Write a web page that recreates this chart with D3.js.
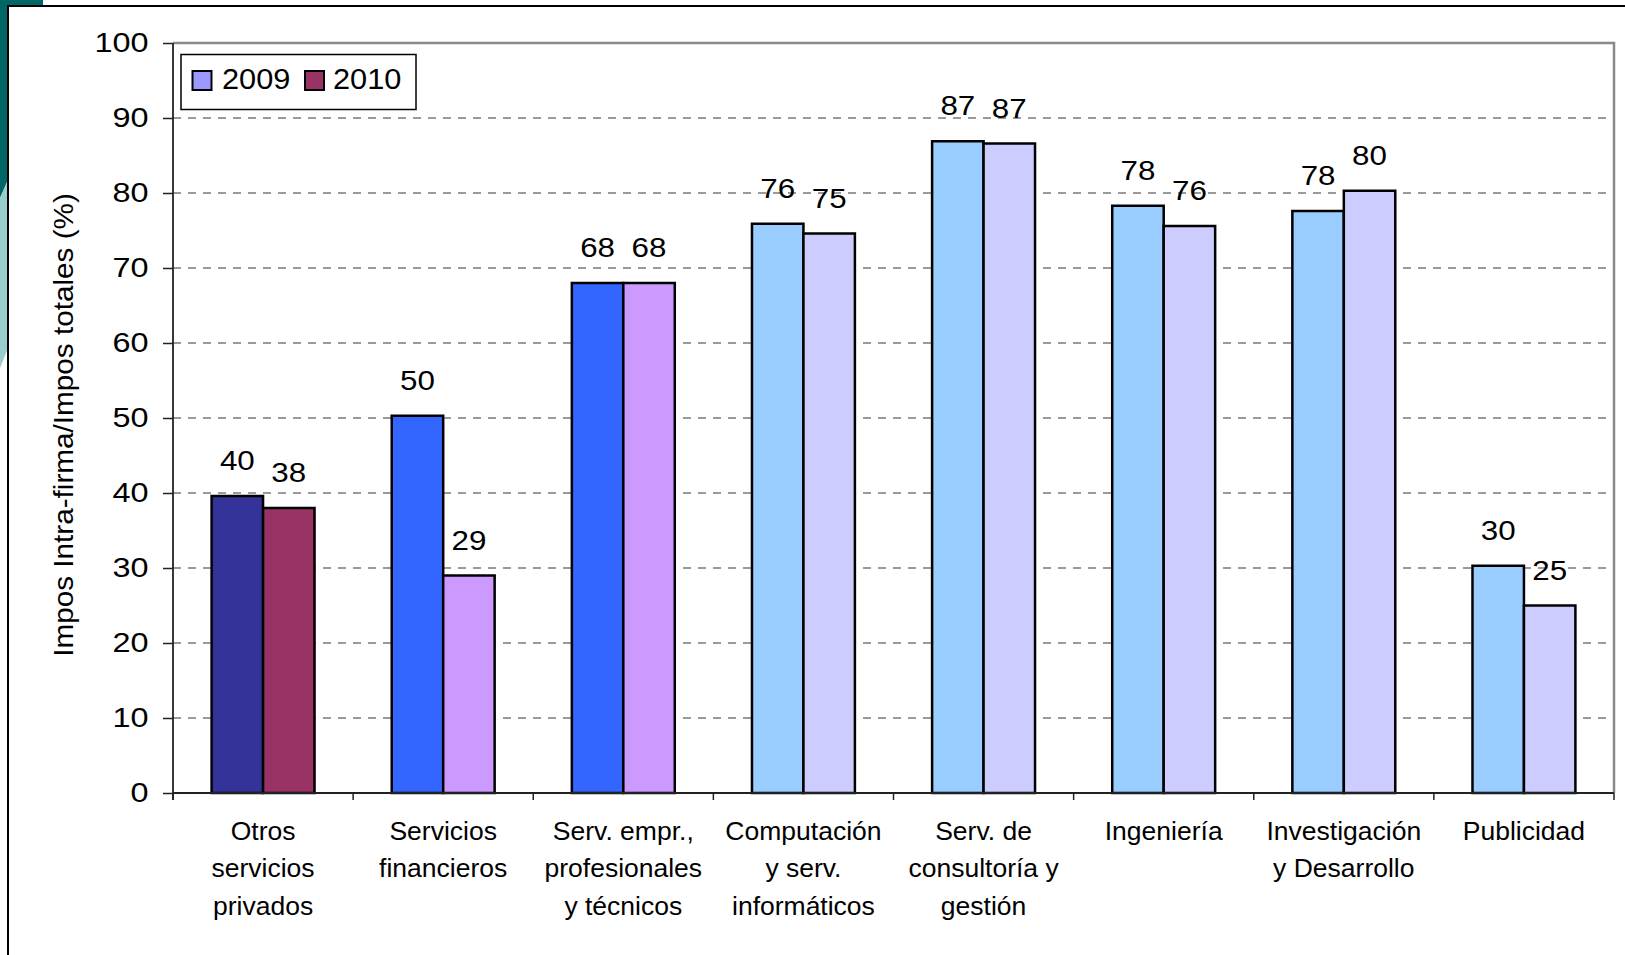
<!DOCTYPE html>
<html>
<head>
<meta charset="utf-8">
<script src="https://cdn.jsdelivr.net/npm/d3@7"></script>
<style>
  html, body { margin: 0; padding: 0; background: #fff; }
  svg { display: block; font-family: "Liberation Sans", Arial, Helvetica, sans-serif; }
</style>
</head>
<body>
<svg id="chart" width="1625" height="955"></svg>
<script>
// ---- data ----
const categories = [
  ["Otros", "servicios", "privados"],
  ["Servicios", "financieros"],
  ["Serv. empr.,", "profesionales", "y técnicos"],
  ["Computación", "y serv.", "informáticos"],
  ["Serv. de", "consultoría y", "gestión"],
  ["Ingeniería"],
  ["Investigación", "y Desarrollo"],
  ["Publicidad"]
];
const series = ["2009", "2010"];
const values2009 = [39.6, 50.3, 68.0, 75.9, 86.9, 78.3, 77.6, 30.3];
const values2010 = [38.0, 29.0, 68.0, 74.6, 86.6, 75.6, 80.3, 25.0];
const labels2009 = ["40", "50", "68", "76", "87", "78", "78", "30"];
const labels2010 = ["38", "29", "68", "75", "87", "76", "80", "25"];
const colors2009 = ["#333399", "#3366FF", "#3366FF", "#99CCFF", "#99CCFF", "#99CCFF", "#99CCFF", "#99CCFF"];
const colors2010 = ["#993366", "#CC99FF", "#CC99FF", "#CCCCFF", "#CCCCFF", "#CCCCFF", "#CCCCFF", "#CCCCFF"];
const legendColors = ["#9999FF", "#993366"];
const yTicks = [0, 10, 20, 30, 40, 50, 60, 70, 80, 90, 100];
const yTitle = "Impos Intra-firma/Impos totales (%)";

// ---- layout ----
const svg = d3.select("#chart");
const X0 = 173, X1 = 1614, Y0 = 793, Y1 = 43;

// decoration (slide corner)
svg.append("path").attr("d", "M0,0 H43 V6 H8 V180 L0,198 Z").attr("fill", "#006666");
svg.append("path").attr("d", "M0,198 L8,180 V348 Q4,358 0,368 Z").attr("fill", "#99CCCC");
// frame
svg.append("path").attr("d", "M8,956 V6 H1626").attr("fill", "none").attr("stroke", "#000").attr("stroke-width", 2);

const catIdx = d3.range(categories.length);
const x = d3.scaleBand().domain(catIdx).range([X0, X1]).paddingInner(0).paddingOuter(0);
const xs = d3.scaleBand().domain(series).range([0, x.bandwidth()]).paddingInner(0).paddingOuter(0.75);
const y = d3.scaleLinear().domain([0, 100]).range([Y0, Y1]);

// gridlines
svg.append("g").selectAll("line").data(yTicks.filter(v => v > 0 && v < 100)).join("line")
  .attr("x1", X0).attr("x2", X1).attr("y1", d => y(d)).attr("y2", d => y(d))
  .attr("stroke", "#7a7a7a").attr("stroke-width", 1.5).attr("stroke-dasharray", "8,7");

// plot area border top/right
svg.append("path").attr("d", `M${X0},${y(100)} H${X1} V${y(0)}`)
  .attr("fill", "none").attr("stroke", "#8a8a8a").attr("stroke-width", 2.5);

// bars
const rows = [];
catIdx.forEach(i => {
  rows.push({i, s: "2009", v: values2009[i], lab: labels2009[i], c: colors2009[i]});
  rows.push({i, s: "2010", v: values2010[i], lab: labels2010[i], c: colors2010[i]});
});
svg.append("g").selectAll("rect").data(rows).join("rect")
  .attr("x", d => x(d.i) + xs(d.s))
  .attr("y", d => y(d.v))
  .attr("width", xs.bandwidth())
  .attr("height", d => y(0) - y(d.v))
  .attr("fill", d => d.c)
  .attr("stroke", "#000").attr("stroke-width", 2.5);

// data labels
svg.append("g").selectAll("text").data(rows).join("text")
  .attr("transform", d => `translate(${x(d.i) + xs(d.s) + xs.bandwidth() / 2},${y(d.v) - 26}) scale(1.12,1)`)
  .attr("text-anchor", "middle")
  .attr("font-size", 28)
  .attr("fill", "#000")
  .text(d => d.lab);

// y axis
const yAxis = d3.axisLeft(y).tickValues(yTicks).tickSize(10).tickFormat("");
const gy = svg.append("g").attr("transform", `translate(${X0},0)`).call(yAxis);
gy.select(".domain").attr("stroke", "#222").attr("stroke-width", 1.8).attr("d", `M0,${Y1}V${Y0 + 7}`);
gy.selectAll(".tick line").attr("stroke", "#222").attr("stroke-width", 1.5);
svg.append("g").selectAll("text").data(yTicks).join("text")
  .attr("transform", d => `translate(148.5,${y(d)}) scale(1.2,1)`)
  .attr("dy", "0.35em")
  .attr("text-anchor", "end")
  .attr("font-size", 27)
  .attr("fill", "#000")
  .text(d => d);

// x axis
const xEdges = catIdx.map(i => x(i)).concat([X1]);
svg.append("line").attr("x1", X0).attr("x2", X1).attr("y1", Y0).attr("y2", Y0)
  .attr("stroke", "#222").attr("stroke-width", 1.8);
svg.append("g").selectAll("line").data(xEdges).join("line")
  .attr("x1", d => d).attr("x2", d => d).attr("y1", Y0).attr("y2", Y0 + 7)
  .attr("stroke", "#222").attr("stroke-width", 1.5);

// category labels
const gl = svg.append("g").attr("font-size", 26.5).attr("fill", "#000").attr("text-anchor", "middle");
catIdx.forEach(i => {
  const t = gl.append("text").attr("x", x(i) + x.bandwidth() / 2).attr("y", 839.5);
  categories[i].forEach((line, k) => {
    t.append("tspan").attr("x", x(i) + x.bandwidth() / 2).attr("y", 839.5 + k * 37.5).text(line);
  });
});

// y title
svg.append("text")
  .attr("transform", "translate(64,425) rotate(-90) scale(1.1,1)")
  .attr("dy", "0.35em")
  .attr("text-anchor", "middle")
  .attr("font-size", 27)
  .attr("fill", "#000")
  .text(yTitle);

// legend
const lg = svg.append("g");
lg.append("rect").attr("x", 181).attr("y", 54.5).attr("width", 235).attr("height", 55)
  .attr("fill", "#fff").attr("stroke", "#000").attr("stroke-width", 1.5);
const legX = [192.5, 305];
const legTX = [222, 333];
series.forEach((s, k) => {
  lg.append("rect").attr("x", legX[k]).attr("y", 71).attr("width", 19).attr("height", 19)
    .attr("fill", legendColors[k]).attr("stroke", "#000").attr("stroke-width", 2);
  lg.append("text").attr("transform", `translate(${legTX[k]},88.5) scale(1.06,1)`)
    .attr("font-size", 29).attr("fill", "#000").text(s);
});
</script>
</body>
</html>
